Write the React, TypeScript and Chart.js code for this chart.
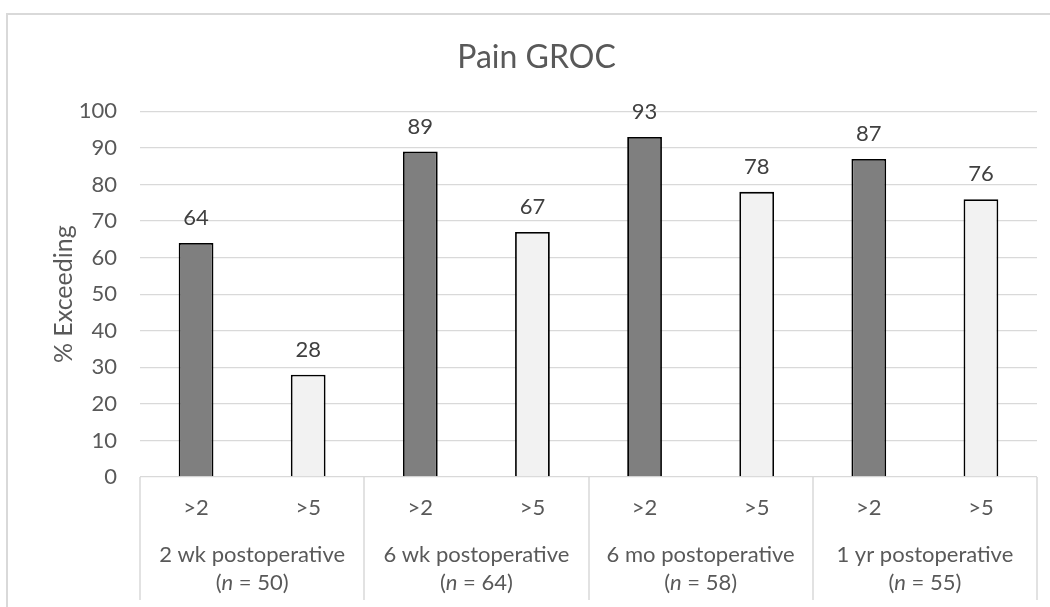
import React, { useEffect, useRef } from "react";
import { Chart, registerables } from "chart.js";

Chart.register(...registerables);

const chartTitle = "Pain GROC";
const yAxisTitle = "% Exceeding";
const thresholds = [">2", ">5", ">2", ">5", ">2", ">5", ">2", ">5"];
const groupNames = ["2 wk postoperative", "6 wk postoperative", "6 mo postoperative", "1 yr postoperative"];
const groupN = [50, 64, 58, 55];
const percentExceeding = [64, 28, 89, 67, 93, 78, 87, 76];
const yMin = 0;
const yMax = 100;
const yStep = 10;

const FONT = "Lato";
const TEXT = "#595959";
const LABEL = "#404040";
const GRID = "#d9d9d9";

const multiLevelAxis = {
  id: "multiLevelAxis",
  afterDraw(chart: any) {
    const x = chart.scales.x;
    const ctx = chart.ctx as CanvasRenderingContext2D;
    const top = x.top;
    ctx.save();
    ctx.strokeStyle = GRID;
    ctx.lineWidth = 1.5;
    const groupSize = thresholds.length / groupNames.length;
    for (let g = 0; g <= groupNames.length; g++) {
      const px = Math.round(x.getPixelForValue(g * groupSize - 0.5));
      ctx.beginPath();
      ctx.moveTo(px, top);
      ctx.lineTo(px, top + 123);
      ctx.stroke();
    }
    ctx.fillStyle = TEXT;
    ctx.textBaseline = "middle";
    const normal = `22px ${FONT}`;
    const italic = `italic 22px ${FONT}`;
    groupNames.forEach((name, g) => {
      const cx = x.getPixelForValue(g * groupSize + (groupSize - 1) / 2);
      ctx.font = normal;
      ctx.textAlign = "center";
      ctx.fillText(name, cx, top + 78);
      const p1 = "(";
      const p2 = "n";
      const p3 = ` = ${groupN[g]})`;
      ctx.font = normal;
      const w1 = ctx.measureText(p1).width;
      const w3 = ctx.measureText(p3).width;
      ctx.font = italic;
      const w2 = ctx.measureText(p2).width;
      let sx = cx - (w1 + w2 + w3) / 2;
      ctx.textAlign = "left";
      ctx.font = normal;
      ctx.fillText(p1, sx, top + 106);
      sx += w1;
      ctx.font = italic;
      ctx.fillText(p2, sx, top + 106);
      sx += w2;
      ctx.font = normal;
      ctx.fillText(p3, sx, top + 106);
    });
    ctx.restore();
  },
};

const valueLabels = {
  id: "valueLabels",
  afterDatasetsDraw(chart: any) {
    const ctx = chart.ctx as CanvasRenderingContext2D;
    const meta = chart.getDatasetMeta(0);
    ctx.save();
    ctx.fillStyle = LABEL;
    ctx.font = `22px ${FONT}`;
    ctx.textAlign = "center";
    ctx.textBaseline = "middle";
    meta.data.forEach((bar: any, i: number) => {
      const { x, y } = bar.getProps(["x", "y"], true);
      ctx.fillText(String(percentExceeding[i]), x, y - 25);
    });
    ctx.restore();
  },
};

export default function App() {
  const canvasRef = useRef<HTMLCanvasElement>(null);

  useEffect(() => {
    if (!canvasRef.current) return;
    const chart = new Chart(canvasRef.current, {
      type: "bar",
      data: {
        labels: thresholds,
        datasets: [
          {
            data: percentExceeding,
            backgroundColor: thresholds.map((t) => (t === ">2" ? "#7f7f7f" : "#f2f2f2")),
            borderColor: "#000000",
            borderWidth: 1.8,
            borderSkipped: "bottom",
            barPercentage: 0.31,
            categoryPercentage: 1,
          },
        ],
      },
      options: {
        responsive: false,
        animation: false,
        devicePixelRatio: 1,
        layout: { padding: { left: 36, right: 13, top: 0, bottom: 0 } },
        plugins: {
          legend: { display: false },
          tooltip: { enabled: false },
          title: {
            display: true,
            text: chartTitle,
            color: TEXT,
            font: { family: FONT, size: 32, weight: "normal" },
            padding: { top: 38, bottom: 35 },
          },
        },
        scales: {
          x: {
            type: "category",
            offset: true,
            grid: { display: false, drawTicks: false },
            border: { display: false },
            ticks: {
              color: TEXT,
              font: { family: FONT, size: 22 },
              padding: 18,
              maxRotation: 0,
              autoSkip: false,
            },
            afterFit: (s: any) => {
              s.height = 130;
            },
          },
          y: {
            min: yMin,
            max: yMax,
            grid: { color: GRID, lineWidth: 1.3, drawTicks: false },
            border: { display: false },
            ticks: {
              stepSize: yStep,
              color: TEXT,
              font: { family: FONT, size: 22 },
              padding: 23,
            },
            title: {
              display: true,
              text: yAxisTitle,
              color: TEXT,
              font: { family: FONT, size: 25 },
              padding: { top: 13, bottom: 0 },
            },
            afterFit: (s: any) => {
              s.width = 104;
            },
          },
        },
      },
      plugins: [valueLabels, multiLevelAxis],
    });
    return () => chart.destroy();
  }, []);

  return (
    <div
      style={{
        position: "absolute",
        left: 0,
        top: 0,
        width: 1050,
        height: 607,
        overflow: "hidden",
        background: "#ffffff",
      }}
    >
      <div
        style={{
          position: "absolute",
          left: 6,
          top: 13,
          width: 1100,
          height: 700,
          border: "2px solid #d9d9d9",
        }}
      />
      <canvas
        ref={canvasRef}
        width={1050}
        height={607}
        style={{ position: "absolute", left: 0, top: 0, width: 1050, height: 607 }}
      />
    </div>
  );
}
